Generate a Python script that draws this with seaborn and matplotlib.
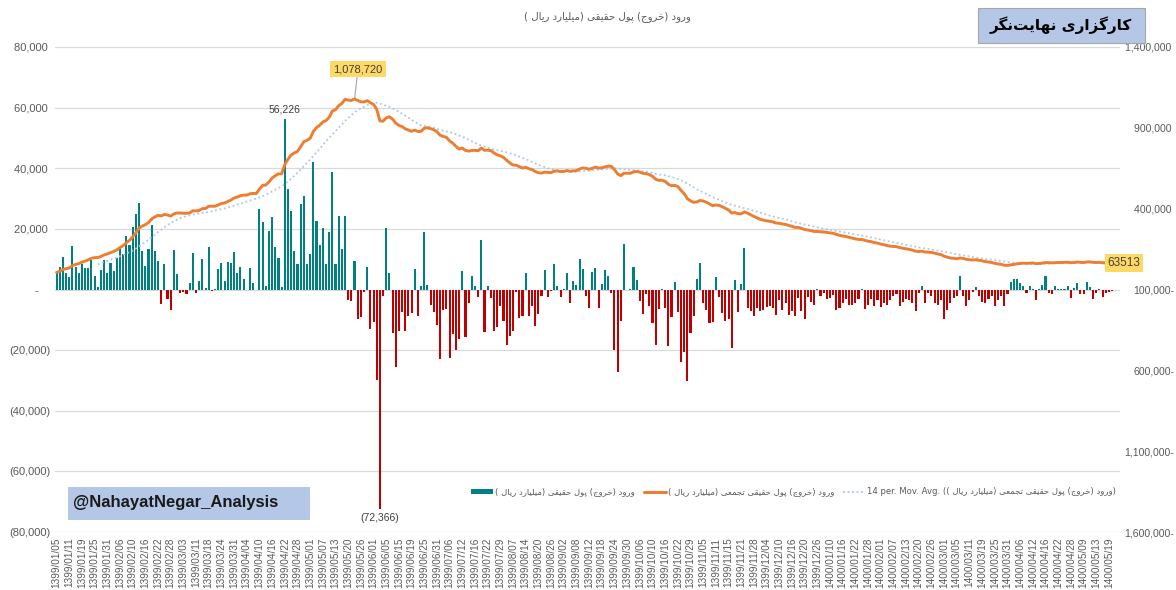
import numpy as np
import pandas as pd
import matplotlib
matplotlib.use("Agg")
import matplotlib.pyplot as plt
import seaborn as sns
from matplotlib.lines import Line2D
from matplotlib.patches import Patch, Rectangle
from matplotlib.ticker import FixedLocator, FuncFormatter

# tick labels (every 4th trading day)
tick_dates = [
    "1399/01/05", "1399/01/11", "1399/01/19", "1399/01/25", "1399/01/31", "1399/02/06", "1399/02/10",
    "1399/02/16", "1399/02/22", "1399/02/28", "1399/03/03", "1399/03/11", "1399/03/18", "1399/03/24",
    "1399/03/31", "1399/04/04", "1399/04/10", "1399/04/16", "1399/04/22", "1399/04/28", "1399/05/01",
    "1399/05/07", "1399/05/13", "1399/05/20", "1399/05/26", "1399/06/01", "1399/06/05", "1399/06/15",
    "1399/06/19", "1399/06/25", "1399/06/31", "1399/07/06", "1399/07/12", "1399/07/16", "1399/07/22",
    "1399/07/29", "1399/08/07", "1399/08/14", "1399/08/20", "1399/08/26", "1399/09/02", "1399/09/08",
    "1399/09/12", "1399/09/18", "1399/09/24", "1399/09/30", "1399/10/06", "1399/10/10", "1399/10/16",
    "1399/10/22", "1399/10/29", "1399/11/05", "1399/11/11", "1399/11/15", "1399/11/21", "1399/11/28",
    "1399/12/04", "1399/12/10", "1399/12/16", "1399/12/20", "1399/12/26", "1400/01/10", "1400/01/16",
    "1400/01/22", "1400/01/28", "1400/02/01", "1400/02/07", "1400/02/13", "1400/02/20", "1400/02/26",
    "1400/03/01", "1400/03/05", "1400/03/11", "1400/03/19", "1400/03/25", "1400/03/31", "1400/04/06",
    "1400/04/12", "1400/04/16", "1400/04/22", "1400/04/28", "1400/05/09", "1400/05/13", "1400/05/19",
]

# daily net real money flow (billion rial)
net_flow = [
    5600, 7300, 10700, 5600, 4100, 14200, 7300, 5600, 8500, 7000,
    7000, 9800, 4300, 800, 6300, 9800, 5600, 8900, 6200, 10400,
    13800, 11800, 17600, 14800, 20500, 24800, 28500, 12700, 7800, 13500,
    21400, 12700, 9300, -4700, 8500, -3100, -6900, 13000, 5200, -1100,
    -800, -1400, 2300, 12100, -1200, 2900, 10100, 600, 13900, -400,
    200, 6800, 8600, 2800, 9200, 8600, 12500, 5600, 7400, 3300,
    -300, 7200, 2300, -300, 26700, 22300, 1200, 19200, 23800, 14000,
    10500, 900, 56226, 33000, 25800, 12700, 8500, 28300, 31000, 8500,
    11600, 42000, 22600, 14600, 20300, 8400, 19000, 38600, 8400, 24300,
    13300, 24300, -3500, -3800, 9400, -9600, -9000, -700, 7300, -12900,
    -10700, -29700, -72366, -2200, 20300, 5500, -14400, -25500, -13800, -7400,
    -13800, -8600, -7800, 6800, -8900, 1000, 19000, 1600, -5000, -7400,
    -11700, -22800, -6700, -6500, -22500, -14800, -19800, -16400, 6000, -15700,
    -4300, 4300, 1000, -2600, 16300, -14000, 1200, -2800, -13800, -12400,
    -5600, -10500, -18200, -15200, -13800, -700, -9300, -8900, 5300, -8600,
    -5300, -11900, -8000, -2300, 6300, -2600, -400, 8300, 1000, -2600,
    300, 5300, -4300, 2800, 1400, 10000, 6800, -2100, -6200, 5700,
    7100, -6200, 1700, 6500, 4500, -1200, -20000, -27200, -10400, 15000,
    -300, 200, 7400, 3100, -3700, -8200, -1400, -5400, -11100, -18200,
    -6500, 200, -6100, -18500, -9100, 2500, -7500, -23800, -20500, -30300,
    -14200, -8900, 3300, 8900, -4500, -6700, -10900, -10800, 4200, -2500,
    -7800, -10400, -9700, -19400, 3100, -7300, 1900, 13800, -6200, -7200,
    -8600, -6200, -7200, -6700, -5800, -5400, -6200, -8400, -3400, -6700,
    -4500, -8400, -7100, -8900, -2900, -7100, -9600, -2500, -4000, -5200,
    200, -2300, -1200, -3200, -2800, -1800, -6700, -6200, -4500, -3100,
    -5000, -5000, -4500, -3200, 300, -6300, -5000, -3200, -5400, -3400,
    -5900, -4300, -5000, -3400, -2300, -1400, -5600, -4000, -3200, -3600,
    -4300, -7200, -1200, 1200, -4300, -1200, -2100, -4500, -5000, -3400,
    -9800, -6700, -4300, -2800, -2300, 4500, -2300, -5400, -3400, -800,
    800, -2300, -4000, -4500, -3200, -2300, -5600, -3600, -2300, -5600,
    -1400, 2400, 3500, 3500, 2200, 1000, -1200, 1200, 100, -3400,
    200, 1400, 4300, -1000, -1500, 1000, 200, 200, 200, 1000,
    -2900, 600, 2100, -1500, -1500, 2500, 800, -3200, -1000, 200,
    -2500, -1200, -800, -600, -300, -200,
]

# cumulative net flow, thousand billion rial
cum_flow_k = [
    6, 13, 24, 29, 33, 48, 55, 60, 69, 76,
    83, 93, 97, 98, 104, 114, 120, 128, 135, 145,
    159, 171, 189, 204, 225, 250, 279, 292, 301, 314,
    336, 349, 359, 355, 364, 361, 354, 368, 373, 373,
    372, 371, 374, 387, 386, 389, 400, 401, 415, 415,
    415, 423, 432, 435, 444, 453, 466, 472, 480, 484,
    484, 492, 494, 494, 521, 544, 546, 565, 590, 604,
    615, 616, 673, 706, 732, 745, 754, 783, 814, 823,
    835, 878, 901, 916, 936, 945, 965, 1004, 1012, 1037,
    1051, 1076, 1072, 1069, 1078.72, 1069, 1061, 1060, 1068, 1055,
    1045, 1015, 943, 941, 962, 968, 954, 929, 915, 908,
    894, 886, 879, 886, 877, 878, 898, 900, 895, 888,
    876, 854, 847, 841, 819, 805, 785, 769, 775, 760,
    756, 760, 761, 758, 775, 761, 762, 759, 745, 733,
    727, 717, 699, 683, 670, 669, 660, 651, 656, 647,
    642, 630, 622, 620, 626, 624, 623, 632, 633, 630,
    630, 636, 631, 634, 635, 645, 652, 650, 644, 650,
    657, 651, 652, 659, 663, 662, 642, 615, 604, 619,
    619, 619, 627, 630, 626, 618, 617, 611, 600, 582,
    575, 576, 569, 551, 542, 544, 537, 513, 493, 462,
    448, 439, 442, 451, 447, 440, 429, 418, 423, 420,
    412, 402, 392, 373, 376, 369, 368, 380, 372, 362,
    352, 343, 334, 329, 325, 322, 318, 311, 310, 305,
    303, 296, 291, 284, 284, 278, 271, 268, 264, 259,
    259, 257, 256, 253, 250, 248, 241, 235, 231, 228,
    223, 218, 213, 210, 210, 204, 199, 196, 190, 187,
    181, 177, 172, 168, 166, 165, 159, 155, 152, 148,
    144, 137, 135, 137, 132, 131, 129, 125, 120, 116,
    106, 100, 95, 93, 90, 95, 92, 87, 84, 83,
    84, 81, 77, 73, 70, 67, 62, 58, 56, 50,
    49, 52, 55, 59, 61, 63, 62, 63, 64, 60,
    61, 63, 67, 66, 65, 66, 67, 67, 68, 69,
    66, 67, 70, 68, 67, 70, 71, 68, 67, 68,
    65, 64.5, 64, 64, 63.5, 63.513,
]

TEAL = "#008080"
RED = "#C00000"
ORANGE = "#ED7D31"
MA_BLUE = "#A9C8E8"
GREY = "#595959"
BOX_BLUE = "#B4C7E7"
YELLOW = "#FFD966"

# --- minimal Persian shaping (glyph forms + visual order) ---
FORMS = {  # isolated, final, initial, medial
    "ا": ("\uFE8D", "\uFE8E", None, None),
    "د": ("\uFEA9", "\uFEAA", None, None),
    "ر": ("\uFEAD", "\uFEAE", None, None),
    "ز": ("\uFEAF", "\uFEB0", None, None),
    "و": ("\uFEED", "\uFEEE", None, None),
    "ت": ("\uFE95", "\uFE96", "\uFE97", "\uFE98"),
    "ج": ("\uFE9D", "\uFE9E", "\uFE9F", "\uFEA0"),
    "ح": ("\uFEA1", "\uFEA2", "\uFEA3", "\uFEA4"),
    "خ": ("\uFEA5", "\uFEA6", "\uFEA7", "\uFEA8"),
    "ع": ("\uFEC9", "\uFECA", "\uFECB", "\uFECC"),
    "ق": ("\uFED5", "\uFED6", "\uFED7", "\uFED8"),
    "ل": ("\uFEDD", "\uFEDE", "\uFEDF", "\uFEE0"),
    "م": ("\uFEE1", "\uFEE2", "\uFEE3", "\uFEE4"),
    "ن": ("\uFEE5", "\uFEE6", "\uFEE7", "\uFEE8"),
    "ه": ("\uFEE9", "\uFEEA", "\uFEEB", "\uFEEC"),
    "پ": ("\uFB56", "\uFB57", "\uFB58", "\uFB59"),
    "ک": ("\uFB8E", "\uFB8F", "\uFB90", "\uFB91"),
    "گ": ("\uFB92", "\uFB93", "\uFB94", "\uFB95"),
    "ی": ("\uFBFC", "\uFBFD", "\uFBFE", "\uFBFF"),
}


def fa(text):
    out = []
    for i, ch in enumerate(text):
        f = FORMS.get(ch)
        if f is None:
            out.append(ch)
            continue
        prev = text[i - 1] if i > 0 else ""
        nxt = text[i + 1] if i + 1 < len(text) else ""
        join_prev = prev in FORMS and FORMS[prev][2] is not None
        join_next = f[2] is not None and nxt in FORMS
        if join_prev and join_next:
            out.append(f[3])
        elif join_prev:
            out.append(f[1])
        elif join_next:
            out.append(f[2])
        else:
            out.append(f[0])
    shaped = "".join(c for c in out if c != "\u200c")
    mirror = {"(": ")", ")": "("}
    return "".join(mirror.get(c, c) for c in reversed(shaped))


title_txt = "ورود (خروج) پول حقیقی (میلیارد ریال )"
cum_txt = "ورود (خروج) پول حقیقی تجمعی (میلیارد ریال )"
ma_txt = "(ورود (خروج) پول حقیقی تجمعی (میلیارد ریال ))"
brand_txt = "کارگزاری نهایت\u200cنگر"

sns.set_style("white")
plt.rcParams["font.family"] = ["Liberation Sans", "DejaVu Sans"]

W, H = 1176, 590
fig = plt.figure(figsize=(W / 100, H / 100), dpi=100)
ax = fig.add_axes([55 / W, 1 - 532 / H, (1120 - 55) / W, (532 - 47) / H])

df = pd.DataFrame({"day": np.arange(len(net_flow)), "flow": net_flow})
df["dir"] = np.where(df["flow"] >= 0, "in", "out")
df["cum"] = np.array(cum_flow_k) * 1000
df["ma"] = df["cum"].rolling(14).mean()

sns.barplot(data=df, x="day", y="flow", hue="dir", palette={"in": TEAL, "out": RED},
            dodge=False, width=0.66, saturation=1, legend=False, linewidth=0, edgecolor="none", ax=ax)
ax.set_xlim(-0.5, len(net_flow) - 0.5)
ax.set_ylim(-80000, 80000)
ax.set_yticks(np.arange(-80000, 80001, 20000))
ax.yaxis.grid(True, color="#D9D9D9", lw=0.9)
ax.set_axisbelow(True)
ax.set_xlabel("")
ax.set_ylabel("")


def left_fmt(v, _):
    if v == 0:
        return "-    "
    if v < 0:
        return f"({abs(v):,.0f})"
    return f"{v:,.0f} "


ax.yaxis.set_major_formatter(FuncFormatter(left_fmt))
ax.xaxis.set_major_locator(FixedLocator(np.arange(len(tick_dates)) * 4))
ax.set_xticklabels(tick_dates, rotation=90)
ax.tick_params(axis="x", length=0, labelsize=7.2, labelcolor=GREY, pad=4)
ax.tick_params(axis="y", length=0, labelsize=8, labelcolor=GREY, pad=3)
for s in ax.spines.values():
    s.set_visible(False)

ax2 = ax.twinx()
sns.lineplot(data=df, x="day", y="ma", ax=ax2, color=MA_BLUE, lw=1.3, linestyle=(0, (1, 1.5)))
sns.lineplot(data=df, x="day", y="cum", ax=ax2, color=ORANGE, lw=2.1)
ax2.set_ylim(-1600000, 1400000)
ax2.set_yticks(np.arange(-1600000, 1400001, 500000))
ax2.yaxis.set_major_formatter(FuncFormatter(lambda v, _: f"{abs(v):,.0f}-" if v < 0 else f"{v:,.0f} "))
ax2.tick_params(axis="y", length=0, labelsize=7.6, labelcolor=GREY, pad=39)
for lbl in ax2.get_yticklabels():
    lbl.set_horizontalalignment("right")
ax2.set_xlabel("")
ax2.set_ylabel("")
for s in ax2.spines.values():
    s.set_visible(False)

# bar labels for max / min
imax = int(np.argmax(net_flow))
imin = int(np.argmin(net_flow))
ax.annotate(f"{net_flow[imax]:,}", xy=(imax, net_flow[imax]), xytext=(0, 3), textcoords="offset points",
            ha="center", va="bottom", fontsize=7.5, color="#404040")
ax.annotate(f"({abs(net_flow[imin]):,})", xy=(imin, net_flow[imin]), xytext=(0, -3), textcoords="offset points",
            ha="center", va="top", fontsize=7.5, color="#404040")

# cumulative labels
ipk = int(np.argmax(df["cum"]))
ax2.annotate(f"{df['cum'][ipk]:,.0f}", xy=(ipk, df["cum"][ipk]), xycoords="data",
             xytext=(358 / W, 1 - 69 / H), textcoords="figure fraction", ha="center", va="center",
             fontsize=8, color="#404040",
             bbox=dict(boxstyle="square,pad=0.3", fc=YELLOW, ec="none"),
             arrowprops=dict(arrowstyle="-", color="#A6A6A6", lw=0.8, shrinkA=0, shrinkB=1))
last = len(cum_flow_k) - 1
fig.text(1124 / W, 1 - 263 / H, f"{round(df['cum'][last])}", ha="center", va="center", fontsize=8.5,
         color="#404040", bbox=dict(boxstyle="square,pad=0.25", fc=YELLOW, ec="none"))

# title and brand boxes
fig.text(607 / W, 1 - 17 / H, fa(title_txt), ha="center", va="center", fontsize=7.3, color=GREY,
         family="DejaVu Sans")
fig.patches.append(Rectangle((978 / W, 1 - 43 / H), 167 / W, 35 / H, transform=fig.transFigure,
                             fc=BOX_BLUE, ec="#A6A6A6", lw=0.8))
fig.text(1061 / W, 1 - 25 / H, fa(brand_txt), ha="center", va="center", fontsize=11, fontweight="bold",
         color="black", family="DejaVu Sans")
fig.patches.append(Rectangle((68 / W, 1 - 520 / H), 242 / W, 33 / H, transform=fig.transFigure,
                             fc=BOX_BLUE, ec="none"))
fig.text(73 / W, 1 - 503 / H, "@NahayatNegar_Analysis", ha="left", va="center", fontsize=12,
         fontweight="bold", color="#1A1A1A")

# legend
handles = [Patch(fc=TEAL, ec="none"),
           Line2D([], [], color=ORANGE, lw=2.2),
           Line2D([], [], color=MA_BLUE, lw=1.3, linestyle=(0, (1, 1.5)))]
labels = [fa(title_txt), fa(cum_txt), "14 per. Mov. Avg. " + fa(ma_txt)]
fig.legend(handles, labels, loc="center right", bbox_to_anchor=(1124 / W, 1 - 492 / H), ncol=3,
           frameon=False, labelcolor=GREY, handlelength=2.6, handleheight=0.6,
           handletextpad=0.3, columnspacing=1.0, prop={"family": "DejaVu Sans", "size": 6.1})

fig.savefig("out.png", dpi=100)
